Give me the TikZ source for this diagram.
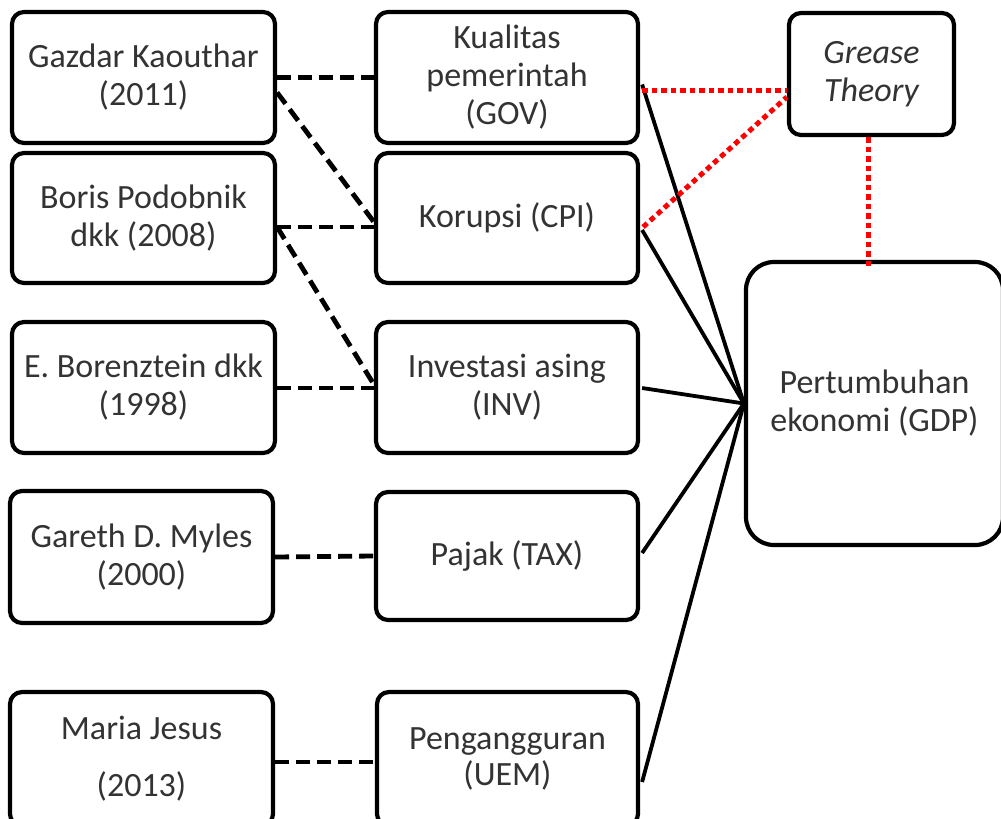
\documentclass[tikz,border=0pt]{standalone}
\usepackage{fontspec}
\setmainfont{Carlito}
\usetikzlibrary{calc}
\tikzset{
  box/.style={draw=black, line width=4.2pt, rounded corners=12pt, fill=white,
    inner sep=0pt, align=center, text=black!80,
    font=\fontsize{34}{38}\selectfont},
  dash line/.style={draw=black, line width=4.8pt, dash pattern=on 14pt off 7pt},
  solid line/.style={draw=black, line width=3.8pt},
  red line/.style={draw=red, line width=5pt, dash pattern=on 5.5pt off 4pt}
}
\begin{document}
\begin{tikzpicture}[x=1pt,y=-1pt]
\useasboundingbox (0,0) rectangle (1001,819);
% left column
\node[box, minimum width=263pt, minimum height=131pt] (GK) at (143.5,77.5) {Gazdar Kaouthar\\(2011)};
\node[box, minimum width=263pt, minimum height=130pt] (BP) at (143.5,218) {Boris Podobnik\\dkk (2008)};
\node[box, minimum width=263pt, minimum height=131pt] (EB) at (143.5,387.5) {E. Borenztein dkk\\(1998)};
\node[box, minimum width=263pt, minimum height=132pt] (GM) at (141.5,557) {Gareth D. Myles\\(2000)};
\node[box, minimum width=263pt, minimum height=134pt] (MJ) at (141.5,759) {Maria Jesus\\[19pt](2013)};
% middle column
\node[box, minimum width=262pt, minimum height=131pt] (GOV) at (507,77.5) {Kualitas\\pemerintah\\(GOV)};
\node[box, minimum width=262pt, minimum height=130pt] (CPI) at (507,218) {Korupsi (CPI)};
\node[box, minimum width=262pt, minimum height=131pt] (INV) at (507,387.5) {Investasi asing\\(INV)};
\node[box, minimum width=262pt, minimum height=128pt] (TAX) at (507,556) {Pajak (TAX)};
\node[box, minimum width=261pt, minimum height=134pt] (UEM) at (507.5,759) {\raisebox{-6pt}{Pengangguran}\\[-2pt]\raisebox{-6pt}{(UEM)}};
% right column
\node[box, minimum width=165pt, minimum height=122pt] (GT) at (871.5,74) {\itshape Grease\\\itshape Theory};
\node[box, rounded corners=28pt, minimum width=257pt, minimum height=283pt] (GDP) at (874.5,403.5) {Pertumbuhan\\ekonomi (GDP)};
% dashed connectors
\draw[dash line] (GK.east) -- (GOV.west);
\draw[dash line] ($(GK.east)+(0,15)$) -- ($(CPI.west)+(0,4)$);
\draw[dash line] ($(BP.east)+(0,9)$) -- ($(CPI.west)+(0,9)$);
\draw[dash line] ($(BP.east)+(0,9)$) -- ($(INV.west)+(0,-3)$);
\draw[dash line] ($(EB.east)+(0,0.5)$) -- ($(INV.west)+(0,0.5)$);
\draw[dash line] (GM.east) -- (TAX.west);
\draw[dash line] ($(MJ.east)+(0,3)$) -- ($(UEM.west)+(0,3)$);
% solid connectors
\coordinate (P) at (GDP.west);
\draw[solid line] ($(GOV.east)+(2,7)$) -- (P);
\draw[solid line] ($(CPI.east)+(2,12)$) -- (P);
\draw[solid line] ($(INV.east)+(2,0.5)$) -- (P);
\draw[solid line] ($(TAX.east)+(2,-3)$) -- (P);
\draw[solid line] ($(UEM.east)+(2,23)$) -- (P);
% red dotted connectors
\coordinate (rx) at (868,0);
\draw[red line] ($(GOV.east)+(2,12.5)$) -- ($(GT.west)+(0,16)$);
\draw[red line] ($(CPI.east)+(3,9)$) -- ($(GT.west)+(0,23)$);
\draw[red line] (GT.south -| rx) -- ($(GDP.north -| rx)+(0,8)$);
\end{tikzpicture}
\end{document}
